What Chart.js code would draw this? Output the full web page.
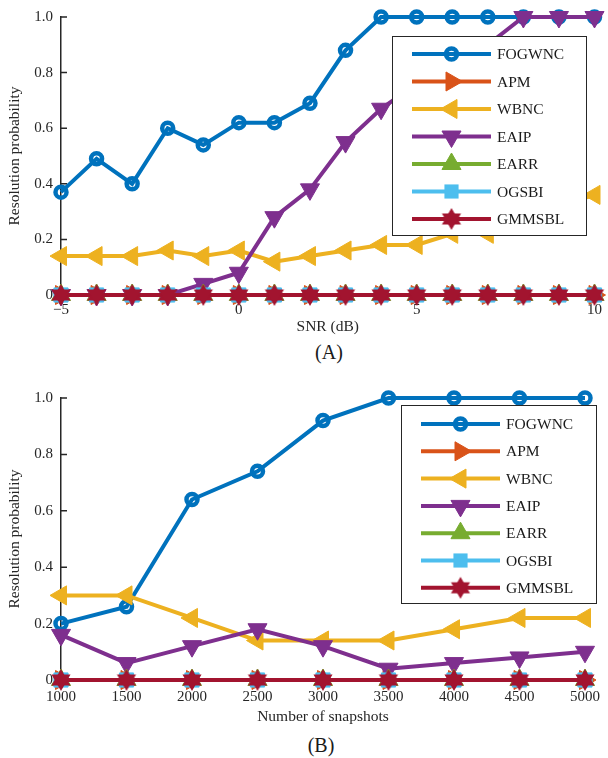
<!DOCTYPE html>
<html>
<head>
<meta charset="utf-8">
<script src="https://cdn.jsdelivr.net/npm/chart.js@4.4.1/dist/chart.umd.min.js"></script>
<style>
  html, body { margin: 0; padding: 0; background: #fff; width: 608px; height: 758px; overflow: hidden; }
  canvas { position: absolute; left: 0; }
  .cap { position: absolute; width: 100px; text-align: center; font-family: "Liberation Serif", "DejaVu Serif", serif;
         font-size: 20px; color: #1a1a1a; line-height: 24px; }
</style>
</head>
<body>
<canvas id="snrChart" width="608" height="340" style="top:0px"></canvas>
<div class="cap" style="left:279px; top:340px;">(A)</div>
<canvas id="snapChart" width="608" height="348" style="top:380px"></canvas>
<div class="cap" style="left:271px; top:733px;">(B)</div>
<script>
// ---- Panel A: resolution probability versus SNR ----
const snrDb = [-5, -4, -3, -2, -1, 0, 1, 2, 3, 4, 5, 6, 7, 8, 9, 10];
const snrFOGWNC = [0.37, 0.49, 0.40, 0.60, 0.54, 0.62, 0.62, 0.69, 0.88, 1.00, 1.00, 1.00, 1.00, 1.00, 1.00, 1.00];
const snrAPM    = [0, 0, 0, 0, 0, 0, 0, 0, 0, 0, 0, 0, 0, 0, 0, 0];
const snrWBNC   = [0.14, 0.14, 0.14, 0.16, 0.14, 0.16, 0.12, 0.14, 0.16, 0.18, 0.18, 0.22, 0.22, 0.28, 0.32, 0.36];
const snrEAIP   = [0, 0, 0, 0, 0.04, 0.08, 0.28, 0.38, 0.55, 0.67, 0.76, 0.83, 0.90, 1.00, 1.00, 1.00];
const snrEARR   = [0, 0, 0, 0, 0, 0, 0, 0, 0, 0, 0, 0, 0, 0, 0, 0];
const snrOGSBI  = [0, 0, 0, 0, 0, 0, 0, 0, 0, 0, 0, 0, 0, 0, 0, 0];
const snrGMMSBL = [0, 0, 0, 0, 0, 0, 0, 0, 0, 0, 0, 0, 0, 0, 0, 0];
const snrTickStep = 5;

// ---- Panel B: resolution probability versus number of snapshots ----
const snapshots = [1000, 1500, 2000, 2500, 3000, 3500, 4000, 4500, 5000];
const snapFOGWNC = [0.20, 0.26, 0.64, 0.74, 0.92, 1.00, 1.00, 1.00, 1.00];
const snapAPM    = [0, 0, 0, 0, 0, 0, 0, 0, 0];
const snapWBNC   = [0.30, 0.30, 0.22, 0.14, 0.14, 0.14, 0.18, 0.22, 0.22];
const snapEAIP   = [0.16, 0.06, 0.12, 0.18, 0.12, 0.04, 0.06, 0.08, 0.10];
const snapEARR   = [0, 0, 0, 0, 0, 0, 0, 0, 0];
const snapOGSBI  = [0, 0, 0, 0, 0, 0, 0, 0, 0];
const snapGMMSBL = [0, 0, 0, 0, 0, 0, 0, 0, 0];
const snapTickStep = 500;

const methodNames = ['FOGWNC', 'APM', 'WBNC', 'EAIP', 'EARR', 'OGSBI', 'GMMSBL'];
const probTickStep = 0.2;

// ---- styling ----
const SERIF = '"Liberation Serif", "DejaVu Serif", serif';
const AXIS_COLOR = '#262626';
const methodColors = ['#0072BD', '#D95319', '#EDB120', '#7E2F8E', '#77AC30', '#4DBEEE', '#A2142F'];

// filled six-pointed star used for the GMMSBL markers
function makeHexagram(color, r) {
  const size = Math.ceil(2 * r + 4);
  const c = document.createElement('canvas');
  c.width = size; c.height = size;
  const g = c.getContext('2d');
  const cx = size / 2, cy = size / 2;
  g.fillStyle = color;
  [0, Math.PI].forEach(off => {
    g.beginPath();
    for (let k = 0; k < 3; k++) {
      const a = off + k * 2 * Math.PI / 3;
      const px = cx + Math.sin(a) * r, py = cy - Math.cos(a) * r;
      if (k === 0) g.moveTo(px, py); else g.lineTo(px, py);
    }
    g.closePath();
    g.fill();
  });
  return c;
}
const hexagram = makeHexagram(methodColors[6], 11);

const markerSpecs = [
  { style: 'circle',   radius: 5.5, rotation: 0,   hollow: true, border: 4.5 },
  { style: 'triangle', radius: 11,  rotation: 90,  border: 1 },
  { style: 'triangle', radius: 11,  rotation: -90, border: 1 },
  { style: 'triangle', radius: 11,  rotation: 180, border: 1 },
  { style: 'triangle', radius: 11,  rotation: 0,   border: 1 },
  { style: 'rect',     radius: 10,  rotation: 0,   border: 1 },
  { style: hexagram,   radius: 11,  rotation: 0,   border: 1 }
];

function buildDatasets(xs, seriesList) {
  return seriesList.map((vals, i) => {
    const m = markerSpecs[i];
    return {
      label: methodNames[i],
      data: xs.map((x, k) => ({ x: x, y: vals[k] })),
      borderColor: methodColors[i],
      backgroundColor: m.hollow ? 'rgba(0,0,0,0)' : methodColors[i],
      pointBorderColor: methodColors[i],
      pointBackgroundColor: m.hollow ? 'rgba(0,0,0,0)' : methodColors[i],
      borderWidth: 4,
      pointStyle: m.style,
      pointRadius: m.radius,
      pointRotation: m.rotation,
      pointBorderWidth: m.border,
      tension: 0,
      clip: false,
      order: seriesList.length - 1 - i
    };
  });
}

// marker painter for the legend samples
function drawMarker(ctx, m, color, x, y) {
  ctx.save();
  ctx.translate(x, y);
  ctx.rotate(m.rotation * Math.PI / 180);
  ctx.fillStyle = color;
  ctx.strokeStyle = color;
  ctx.lineWidth = m.border;
  if (typeof m.style !== 'string') {
    ctx.drawImage(m.style, -m.style.width / 2, -m.style.height / 2);
  } else if (m.style === 'circle') {
    ctx.beginPath();
    ctx.arc(0, 0, m.radius, 0, 2 * Math.PI);
    if (!m.hollow) ctx.fill();
    ctx.stroke();
  } else if (m.style === 'triangle') {
    ctx.beginPath();
    for (let k = 0; k < 3; k++) {
      const a = k * 2 * Math.PI / 3;
      const px = Math.sin(a) * m.radius, py = -Math.cos(a) * m.radius;
      if (k === 0) ctx.moveTo(px, py); else ctx.lineTo(px, py);
    }
    ctx.closePath();
    ctx.fill();
    ctx.stroke();
  } else if (m.style === 'rect') {
    const s = Math.SQRT1_2 * m.radius;
    ctx.fillRect(-s, -s, 2 * s, 2 * s);
  }
  ctx.restore();
}

// boxed legend placed inside the plot area
const boxLegend = {
  id: 'boxLegend',
  afterDatasetsDraw(chart, args, opts) {
    const ctx = chart.ctx;
    ctx.save();
    ctx.fillStyle = '#ffffff';
    ctx.fillRect(opts.left, opts.top, opts.width, opts.height);
    ctx.strokeStyle = AXIS_COLOR;
    ctx.lineWidth = 1;
    ctx.strokeRect(opts.left + 0.5, opts.top + 0.5, opts.width, opts.height);
    methodNames.forEach((name, i) => {
      const y = opts.top + opts.firstRow + i * opts.rowStep;
      const x0 = opts.left + 20, x1 = x0 + 79;
      ctx.strokeStyle = methodColors[i];
      ctx.lineWidth = 4;
      ctx.beginPath();
      ctx.moveTo(x0, y);
      ctx.lineTo(x1, y);
      ctx.stroke();
      drawMarker(ctx, markerSpecs[i], methodColors[i], (x0 + x1) / 2, y);
      ctx.fillStyle = '#1a1a1a';
      ctx.font = '15.5px ' + SERIF;
      ctx.textBaseline = 'middle';
      ctx.textAlign = 'left';
      ctx.fillText(name, opts.left + 105, y + 1);
    });
    ctx.restore();
  }
};

// short tick marks pointing into the plot
const inwardTicks = {
  id: 'inwardTicks',
  beforeDatasetsDraw(chart) {
    const { ctx, chartArea: a, scales } = chart;
    ctx.save();
    ctx.strokeStyle = AXIS_COLOR;
    ctx.lineWidth = 1.5;
    ctx.beginPath();
    scales.y.ticks.forEach(t => {
      const py = scales.y.getPixelForValue(t.value);
      ctx.moveTo(a.left, py); ctx.lineTo(a.left + 6, py);
    });
    scales.x.ticks.forEach(t => {
      const px = scales.x.getPixelForValue(t.value);
      ctx.moveTo(px, a.bottom); ctx.lineTo(px, a.bottom - 6);
    });
    ctx.stroke();
    ctx.restore();
  }
};

function makeChart(canvasId, xs, seriesList, cfg) {
  return new Chart(document.getElementById(canvasId), {
    type: 'line',
    data: { datasets: buildDatasets(xs, seriesList) },
    plugins: [inwardTicks, boxLegend],
    options: {
      responsive: false,
      animation: false,
      devicePixelRatio: 1,
      layout: { padding: { left: 0, right: cfg.padRight, top: cfg.padTop, bottom: 0 } },
      plugins: {
        legend: { display: false },
        tooltip: { enabled: false },
        boxLegend: cfg.legend
      },
      scales: {
        x: {
          type: 'linear',
          min: xs[0],
          max: xs[xs.length - 1],
          grid: { drawOnChartArea: false, drawTicks: false },
          border: { display: true, color: AXIS_COLOR, width: 1.5 },
          ticks: {
            stepSize: cfg.xStep,
            autoSkip: false,
            maxRotation: 0,
            padding: cfg.xTickPad,
            color: AXIS_COLOR,
            font: { family: SERIF, size: 15 },
            callback: v => (v < 0 ? '\u2212' + Math.abs(v) : String(v))
          },
          title: {
            display: true,
            text: cfg.xTitle,
            color: AXIS_COLOR,
            font: { family: SERIF, size: 15.5 },
            padding: { top: 0, bottom: cfg.xTitlePadBottom }
          },
          afterFit: s => { s.height = cfg.xAxisHeight; }
        },
        y: {
          min: 0,
          max: 1,
          grid: { drawOnChartArea: false, drawTicks: false },
          border: { display: true, color: AXIS_COLOR, width: 1.5 },
          ticks: {
            stepSize: probTickStep,
            padding: 8,
            color: AXIS_COLOR,
            font: { family: SERIF, size: 15 },
            callback: v => (Math.abs(v) < 1e-9 ? '0' : v.toFixed(1))
          },
          title: {
            display: true,
            text: 'Resolution probability',
            color: AXIS_COLOR,
            font: { family: SERIF, size: 15.5 },
            padding: { top: 6, bottom: 0 }
          },
          afterFit: s => { s.width = 61; }
        }
      }
    }
  });
}

makeChart('snrChart', snrDb,
  [snrFOGWNC, snrAPM, snrWBNC, snrEAIP, snrEARR, snrOGSBI, snrGMMSBL],
  {
    padTop: 14, padRight: 12, xStep: snrTickStep, xTickPad: 6, xTitle: 'SNR (dB)', xTitlePadBottom: 4, xAxisHeight: 45,
    legend: { left: 392, top: 36, width: 194, height: 199, firstRow: 18, rowStep: 27.5 }
  });

makeChart('snapChart', snapshots,
  [snapFOGWNC, snapAPM, snapWBNC, snapEAIP, snapEARR, snapOGSBI, snapGMMSBL],
  {
    padTop: 18, padRight: 19, xStep: snapTickStep, xTickPad: 8, xTitle: 'Number of snapshots', xTitlePadBottom: 2, xAxisHeight: 48,
    legend: { left: 401, top: 25, width: 195, height: 198, firstRow: 19, rowStep: 27.3 }
  });
</script>
</body>
</html>
